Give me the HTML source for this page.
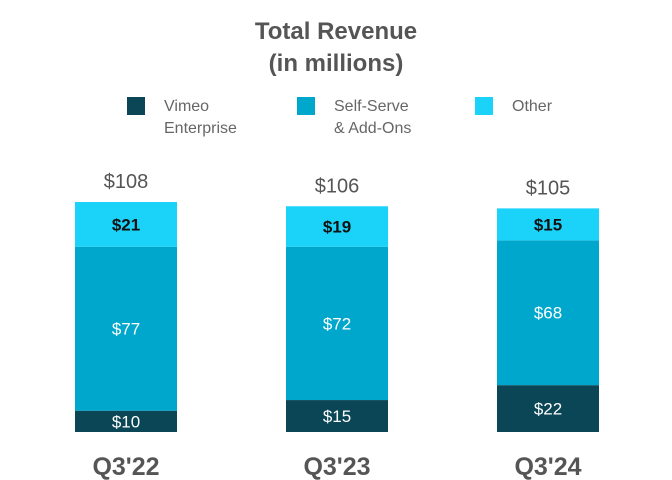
<!DOCTYPE html>
<html><head><meta charset="utf-8"><style>
body{margin:0;background:#fff}
svg{display:block;font-family:"Liberation Sans",sans-serif}
</style></head><body>
<svg width="672" height="480">
<text x="336" y="39" text-anchor="middle" font-size="24" font-weight="bold" fill="#555">Total Revenue</text>
<text x="336" y="71" text-anchor="middle" font-size="24" font-weight="bold" fill="#555">(in millions)</text>
<g font-size="16" fill="#666">
<rect x="127" y="97" width="18" height="18" fill="#0b4656"/>
<text x="164" y="111"><tspan x="164">Vimeo</tspan><tspan x="164" dy="22">Enterprise</tspan></text>
<rect x="297" y="97" width="18" height="18" fill="#00a7cc"/>
<text x="334" y="111"><tspan x="334">Self-Serve</tspan><tspan x="334" dy="22">&amp; Add-Ons</tspan></text>
<rect x="475" y="97" width="18" height="18" fill="#1bd3f9"/>
<text x="512" y="111">Other</text>
</g>
<g id="bars"></g>
</svg>
<script>
const categories=["Q3'22","Q3'23","Q3'24"];
const enterprise=[10,15,22];
const selfServe=[77,72,68];
const other=[21,19,15];
const totals=[108,106,105];
const NS="http://www.w3.org/2000/svg";
const g=document.getElementById('bars');
const base=432, scale=230/108;
const y=v=>base-v*scale;
const xc=i=>126+i*211;
const colors=["#0b4656","#00a7cc","#1bd3f9"];
const txtCol=["#fff","#fff","#111"];
const names=["enterprise","self-serve","other"];
function mk(tag,attrs){const e=document.createElementNS(NS,tag);for(const k in attrs)e.setAttribute(k,attrs[k]);g.appendChild(e);return e;}
categories.forEach((c,i)=>{
  const vals=[enterprise[i],selfServe[i],other[i]];
  let cum=0;
  vals.forEach((v,s)=>{
    const r=mk('rect',{x:xc(i)-51,y:y(cum+v),width:102,height:v*scale,fill:colors[s]});
    
    
    const t=mk('text',{x:xc(i),y:y(cum+v/2)+6,'text-anchor':'middle','font-size':17,'font-weight':s==2?'bold':'normal',fill:txtCol[s]});
    t.textContent='$'+v;
    
    
    cum+=v;
  });
  const tt=mk('text',{x:xc(i),y:y(totals[i])-14,'text-anchor':'middle','font-size':20,fill:'#555'});
  tt.textContent='$'+totals[i];
  
  
  const cl=mk('text',{x:xc(i),y:475,'text-anchor':'middle','font-size':25,'font-weight':'bold',fill:'#555'});
  cl.textContent=c;
  
  
});
</script>
</body></html>
